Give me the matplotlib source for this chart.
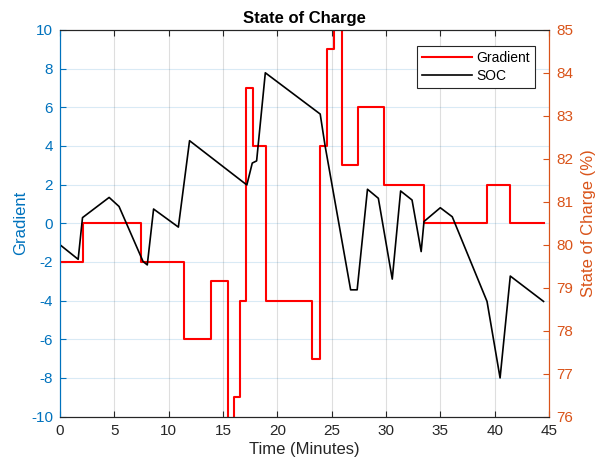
import matplotlib.pyplot as plt

# gradient (step signal), change times in minutes
grad_t = [0, 2.14, 7.5, 11.4, 13.9, 15.45, 16.05, 16.6, 17.1, 17.8, 18.96,
          23.24, 23.9, 24.6, 25.2, 26.0, 27.4, 29.8, 33.5, 39.3, 41.4, 44.5]
grad_v = [-2, 0, -2, -6, -3, -12, -9, -4, 7, 4, -4,
          -7, 4, 9, 12, 3, 6, 2, 0, 2, 0, 0]

# state of charge (%)
soc_t = [0, 1.68, 2.08, 4.53, 5.44, 7.65, 8.04, 8.62, 10.9, 11.93, 17.2,
         17.7, 18.1, 18.9, 23.95, 24.4, 26.75, 27.35, 28.3, 29.3, 30.58,
         31.35, 32.4, 33.24, 33.5, 35.0, 36.1, 39.3, 40.5, 41.44, 44.5]
soc_v = [80.0, 79.66, 80.63, 81.1, 80.89, 79.61, 79.53, 80.83, 80.41, 82.42, 81.39,
         81.9, 81.95, 84.0, 83.04, 82.3, 78.95, 78.95, 81.29, 81.08, 79.2,
         81.25, 81.04, 79.84, 80.54, 80.86, 80.65, 78.68, 76.9, 79.27, 78.68]

blue = "#0072BD"
orange = "#D95319"
dark = "#262626"

plt.rcParams["font.family"] = ["Liberation Sans", "DejaVu Sans"]
plt.rcParams["axes.unicode_minus"] = False

fig = plt.figure(figsize=(5.99, 4.66), dpi=100)
ax = fig.add_axes([0.1, 0.106, 0.8165, 0.83])
ax2 = ax.twinx()

l1, = ax.plot(grad_t, grad_v, drawstyle="steps-post", color="red", lw=1.5, label="Gradient")
l2, = ax2.plot(soc_t, soc_v, color="black", lw=1.2, label="SOC")

ax.set_xlim(0, 45)
ax.set_ylim(-10, 10)
ax2.set_ylim(76, 85)
ax.set_xticks(range(0, 46, 5))
ax.set_yticks(range(-10, 11, 2))
ax2.set_yticks(range(76, 86))

ax.grid(axis="x", color=dark, alpha=0.15, lw=0.8)
ax.grid(axis="y", color=blue, alpha=0.15, lw=0.8)
ax.set_axisbelow(True)

ax.tick_params(axis="x", direction="in", top=True, colors=dark, labelsize=11, length=4, pad=5)
ax.tick_params(axis="y", direction="in", colors=blue, labelsize=11, length=4, pad=5)
ax2.tick_params(axis="y", direction="in", colors=orange, labelsize=11, length=4, pad=5)

for a in (ax, ax2):
    a.spines["top"].set_color(dark)
    a.spines["bottom"].set_color(dark)
    a.spines["left"].set_color(blue)
    a.spines["right"].set_color(orange)

ax.set_xlabel("Time (Minutes)", fontsize=12, color=dark, labelpad=3)
ax.set_ylabel("Gradient", fontsize=12, color=blue, labelpad=2)
ax2.set_ylabel("State of Charge (%)", fontsize=12, color=orange, labelpad=6)
ax.set_title("State of Charge", fontsize=12, fontweight="bold", color="black", pad=5)

leg = ax2.legend(handles=[l1, l2], loc="upper right", bbox_to_anchor=(0.985, 0.975),
                 fancybox=False, edgecolor=dark, framealpha=1, fontsize=10,
                 handlelength=3.6, handletextpad=0.3, borderpad=0.35, labelspacing=0.25)
leg.get_frame().set_linewidth(0.8)

fig.savefig("out.png", dpi=100)
